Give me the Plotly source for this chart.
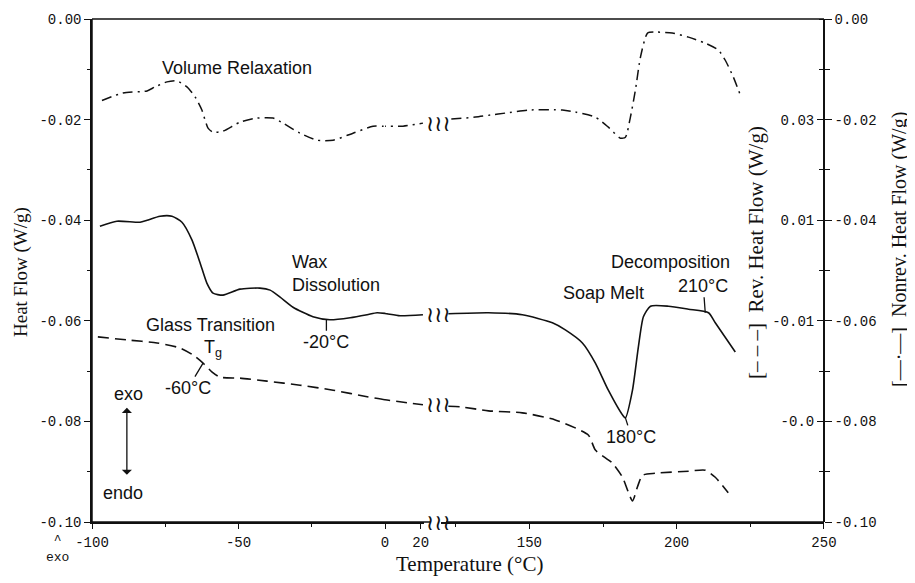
import plotly.graph_objects as go

# ---------------- data ----------------
# Total heat flow (solid, left axis)
total_T_low = [-97.3, -91.5, -83.6, -81.2, -76.8, -72.7, -69.3, -65.9, -63.1, -60.8, -58.7, -55.3,
               -49.5, -42.7, -39.2, -35.8, -31.4, -24.6, -18.8, -11.9, -6.1, -2.7, 1.1, 8.4, 21.3]
total_low = [-0.0412, -0.0402, -0.0404, -0.0400, -0.0392, -0.0392, -0.0404, -0.0439, -0.0485, -0.0525,
             -0.0545, -0.0549, -0.0537, -0.0535, -0.0539, -0.0553, -0.0573, -0.0592, -0.0598, -0.0594,
             -0.0588, -0.0584, -0.0586, -0.0590, -0.0588]
total_T_high = [122.5, 136.1, 147.6, 157.8, 162.2, 168.0, 172.4, 176.8, 181.6, 182.6, 185.0, 187.0,
                188.7, 191.1, 197.2, 204.0, 210.8, 213.1, 219.9]
total_high = [-0.0586, -0.0584, -0.0588, -0.0604, -0.0618, -0.0644, -0.0684, -0.0738, -0.0787, -0.0793,
              -0.0738, -0.0652, -0.0592, -0.0571, -0.0571, -0.0577, -0.0584, -0.0604, -0.0662]

# Reversing heat flow (dashed, inner right axis)
rev_T_low = [-98.0, -88.1, -77.8, -70.0, -65.5, -62.1, -59.0, -56.3, -49.5, -40.3, -29.0, -17.7,
             -6.1, 0.0, 8.4, 21.3]
rev_low = [-0.0132, -0.0138, -0.0144, -0.0154, -0.0168, -0.0184, -0.0202, -0.0212, -0.0214, -0.0220,
           -0.0228, -0.0238, -0.0251, -0.0257, -0.0261, -0.0267]
rev_T_high = [122.5, 126.6, 136.1, 147.6, 158.8, 170.0, 172.4, 178.2, 181.6, 185.0, 186.7, 188.4,
              192.8, 204.0, 209.7, 213.1, 217.5]
rev_high = [-0.0270, -0.0271, -0.0279, -0.0283, -0.0297, -0.0327, -0.0357, -0.0383, -0.0411, -0.0458,
            -0.0430, -0.0407, -0.0403, -0.0399, -0.0397, -0.0411, -0.0442]

# Non-reversing heat flow (dash-dot, outer right axis)
nonrev_T_low = [-96.6, -89.4, -81.2, -78.5, -74.4, -71.0, -67.6, -64.8, -62.5, -60.4, -58.7, -55.3,
                -49.5, -43.7, -38.2, -34.8, -29.0, -23.2, -17.7, -10.9, -4.1, -0.7, 10.1, 21.3]
nonrev_low = [-0.0162, -0.0147, -0.0143, -0.0135, -0.0125, -0.0123, -0.0135, -0.0155, -0.0181, -0.0217,
              -0.0225, -0.0223, -0.0205, -0.0197, -0.0197, -0.0207, -0.0227, -0.0241, -0.0241, -0.0227,
              -0.0213, -0.0213, -0.0213, -0.0207]
nonrev_T_high = [123.5, 131.7, 136.8, 141.9, 149.7, 161.2, 165.6, 172.4, 176.8, 180.9, 182.6, 184.3,
                 186.0, 187.7, 190.1, 192.8, 198.5, 204.0, 209.7, 214.2, 216.5, 219.2, 221.6]
nonrev_high = [-0.0199, -0.0195, -0.0191, -0.0187, -0.0181, -0.0181, -0.0185, -0.0195, -0.0215, -0.0237,
               -0.0235, -0.0195, -0.0141, -0.0076, -0.0028, -0.0026, -0.0028, -0.0036, -0.0048, -0.0062,
               -0.0082, -0.0115, -0.0151]

# tick labels
x_low_ticks = [-100, -50, 0]
x_low_labels = ["-100", "-50", "0"]
x_mid_ticks = [20]
x_mid_labels = ["20"]
x_high_ticks = [150, 200, 250]
x_high_labels = ["150", "200", "250"]
y_ticks = [0, -0.02, -0.04, -0.06, -0.08, -0.10]
y_labels = ["0.00", "-0.02", "-0.04", "-0.06", "-0.08", "-0.10"]
rev_ticks = [0.03, 0.01, -0.01, -0.03]
rev_labels = ["0.03", "0.01", "-0.01", "-0.0"]

# ---------------- figure ----------------
# the page body adds an 8 px offset; the figure is sized so the plot area lands at x 92..824, y 19..522
OFF = 8
W, H = 915 - OFF, 583 - OFF
PL, PR, PT, PB = 92, 824, 19, 522          # plot area in window pixels
L, R, T, B = PL - OFF, W - (PR - OFF), PT - OFF, H - (PB - OFF)
pw, ph = PR - PL, PB - PT


def px2paper(px):
    return (px - PL) / pw


def py2paper(py):
    return (PB - py) / ph


x_low_dom = [0, px2paper(385)]
x_mid_dom = [px2paper(385), px2paper(424.2)]
x_high_dom = [px2paper(441), 1]

BLACK = "#111111"
DASH = "11px,6px"
DASHDOT = "10px,5px,2px,5px"

fig = go.Figure()

segments = [("x", total_T_low, total_low), ("x3", total_T_low, total_low), ("x2", total_T_high, total_high)]
for xa, xs, ys in segments:
    fig.add_trace(go.Scatter(x=xs, y=ys, xaxis=xa, yaxis="y", mode="lines",
                             line=dict(color=BLACK, width=1.6, shape="spline", smoothing=0.6),
                             showlegend=False, hoverinfo="skip"))
segments = [("x", rev_T_low, rev_low), ("x3", rev_T_low, rev_low), ("x2", rev_T_high, rev_high)]
for xa, xs, ys in segments:
    fig.add_trace(go.Scatter(x=xs, y=ys, xaxis=xa, yaxis="y2", mode="lines",
                             line=dict(color=BLACK, width=1.6, dash=DASH, shape="spline", smoothing=0.6),
                             showlegend=False, hoverinfo="skip"))
segments = [("x", nonrev_T_low, nonrev_low), ("x3", nonrev_T_low, nonrev_low), ("x2", nonrev_T_high, nonrev_high)]
for xa, xs, ys in segments:
    fig.add_trace(go.Scatter(x=xs, y=ys, xaxis=xa, yaxis="y3", mode="lines",
                             line=dict(color=BLACK, width=1.5, dash=DASHDOT, shape="spline", smoothing=0.6),
                             showlegend=False, hoverinfo="skip"))

tickfont = dict(family="Liberation Mono", size=14, color=BLACK)
xcommon = dict(anchor="y", showline=True, linecolor=BLACK, linewidth=1.5,
               ticks="outside", ticklen=5, tickcolor=BLACK, tickwidth=1.3, showgrid=False,
               zeroline=False, tickmode="array", tickfont=tickfont, ticklabelstandoff=1)
minor_x = dict(tickmode="linear", dtick=50, ticks="outside", ticklen=3, tickcolor=BLACK, tickwidth=1.2)

fig.update_layout(
    width=W, height=H,
    margin=dict(l=L, r=R, t=T, b=B, autoexpand=False),
    paper_bgcolor="white", plot_bgcolor="rgba(0,0,0,0)",
    xaxis=dict(domain=x_low_dom, range=[-100, 0], tickvals=x_low_ticks, ticktext=x_low_labels,
               minor=dict(tick0=-75, **minor_x), **xcommon),
    xaxis3=dict(domain=x_mid_dom, range=[0, 22], tickvals=x_mid_ticks, ticktext=x_mid_labels, **xcommon),
    xaxis2=dict(domain=x_high_dom, range=[120, 250.01], tickvals=x_high_ticks, ticktext=x_high_labels,
                minor=dict(tick0=175, **minor_x), **xcommon),
    yaxis=dict(range=[-0.10, 0.0], anchor="x", side="left",
               tickmode="array", tickvals=y_ticks, ticktext=y_labels,
               showline=True, linecolor=BLACK, linewidth=1.5, ticks="outside", ticklen=6,
               tickcolor=BLACK, tickwidth=1.3, showgrid=False, zeroline=False, tickfont=tickfont,
               minor=dict(tickmode="linear", tick0=0, dtick=0.01, ticks="outside", ticklen=3,
                          tickcolor=BLACK, tickwidth=1.2)),
    # reversing-heat-flow scale: labels on the inner side of the right-hand axis line
    yaxis2=dict(range=[-0.05, 0.05], overlaying="y", side="left", anchor="free", position=1,
                tickmode="array", tickvals=rev_ticks, ticktext=rev_labels, ticks="outside", ticklen=7,
                tickcolor=BLACK, tickwidth=1.3, showgrid=False,
                zeroline=False, showline=False, tickfont=tickfont,
                minor=dict(tickmode="linear", tick0=0, dtick=0.01, ticks="outside", ticklen=5,
                           tickcolor=BLACK, tickwidth=1.2)),
    yaxis3=dict(range=[-0.10, 0.0], overlaying="y", side="right", anchor="free", position=1,
                tickmode="array", tickvals=y_ticks, ticktext=y_labels, ticks="outside", ticklen=7,
                tickcolor=BLACK, tickwidth=1.3, showline=True, linecolor=BLACK, linewidth=1.5,
                showgrid=False, zeroline=False, tickfont=tickfont,
                minor=dict(tickmode="linear", tick0=0, dtick=0.01, ticks="outside", ticklen=5,
                           tickcolor=BLACK, tickwidth=1.2)),
)

# frame lines (top edge and the axis lines)
fig.add_shape(type="line", xref="paper", yref="paper", x0=0, x1=1, y0=1, y1=1,
              line=dict(color=BLACK, width=1.5))
fig.add_shape(type="line", xref="paper", yref="paper", x0=0, x1=0, y0=0, y1=1,
              line=dict(color=BLACK, width=1.5))
fig.add_shape(type="line", xref="paper", yref="paper", x0=0, x1=px2paper(430), y0=0, y1=0,
              line=dict(color=BLACK, width=1.5))
fig.add_shape(type="line", xref="paper", yref="paper", x0=px2paper(446), x1=1, y0=0, y1=0,
              line=dict(color=BLACK, width=1.5))

sans = dict(family="Liberation Sans", size=18, color=BLACK)
serif_title = dict(family="Liberation Serif", size=21, color=BLACK)


def note(text, x, y, xref="x", yref="y", font=sans, **kw):
    kw.setdefault("xanchor", "center")
    kw.setdefault("yanchor", "middle")
    fig.add_annotation(text=text, x=x, y=y, xref=xref, yref=yref, showarrow=False, font=font, **kw)


# axis titles
note("Temperature (°C)", px2paper(469), py2paper(564), xref="paper", yref="paper", font=serif_title)
note("Heat Flow (W/g)", px2paper(21), py2paper(272), xref="paper", yref="paper",
     font=dict(family="Liberation Serif", size=19, color=BLACK), textangle=-90)
note("[– – –]  Rev. Heat Flow (W/g)", px2paper(756), py2paper(253), xref="paper", yref="paper",
     font=serif_title, textangle=-90)
note("[—·—]  Nonrev. Heat Flow (W/g)", px2paper(899), py2paper(250), xref="paper", yref="paper",
     font=dict(family="Liberation Serif", size=20, color=BLACK), textangle=-90)

# feature labels
note("Volume Relaxation", -50.5, -0.0097)
note("Wax<br>Dissolution", -32.4, -0.0505, xanchor="left", align="left")
note("Glass Transition", -59.7, -0.0608)
note("T<sub>g</sub>", -58.7, -0.0656)
note("Soap Melt", 175.1, -0.0545, xref="x2")
note("Decomposition", 197.9, -0.0483, xref="x2")
note("exo", -87.7, -0.0746)
note("endo", -89.4, -0.0942)
note("^<br>exo", px2paper(57), py2paper(549), xref="paper", yref="paper",
     font=dict(family="Liberation Mono", size=13, color=BLACK))

# exo/endo double arrow (tail end is offset by the half-height of the blank text box)
fig.add_annotation(x=-88.1, y=-0.0773, ax=-88.1, ay=-0.0926, xref="x", yref="y", axref="x", ayref="y",
                   text=" ", showarrow=True, arrowhead=1, startarrowhead=1, arrowside="end+start",
                   arrowsize=1.3, startarrowsize=1.3, arrowwidth=1.3, arrowcolor=BLACK)


# labelled points with leader lines
def leader(text, x, y, ax, ay, xref="x", yref="y"):
    fig.add_annotation(text=text, x=x, y=y, xref=xref, yref=yref, ax=ax, ay=ay, showarrow=True,
                       arrowhead=0, arrowwidth=1.3, arrowcolor=BLACK, standoff=0, font=sans)


leader("-20°C", -20, -0.0597, 0, 23)
leader("-60°C", -62.1, -0.0184, -15, 25, yref="y2")
leader("180°C", 182.6, -0.0793, 6, 19, xref="x2")
leader("210°C", 209.7, -0.0584, -2, -27, xref="x2")

# axis-break marks
brk_x = px2paper(438)
squig = dict(family="DejaVu Sans", size=22, color=BLACK)
note("≀≀≀", brk_x, nonrev_low[-1], xref="paper", yref="y3", font=squig)
note("≀≀≀", brk_x, total_low[-1], xref="paper", yref="y", font=squig)
note("≀≀≀", brk_x, rev_low[-1], xref="paper", yref="y2", font=squig)
note("≀≀≀", brk_x, 0, xref="paper", yref="paper", font=squig)

fig.write_html("out.html")
